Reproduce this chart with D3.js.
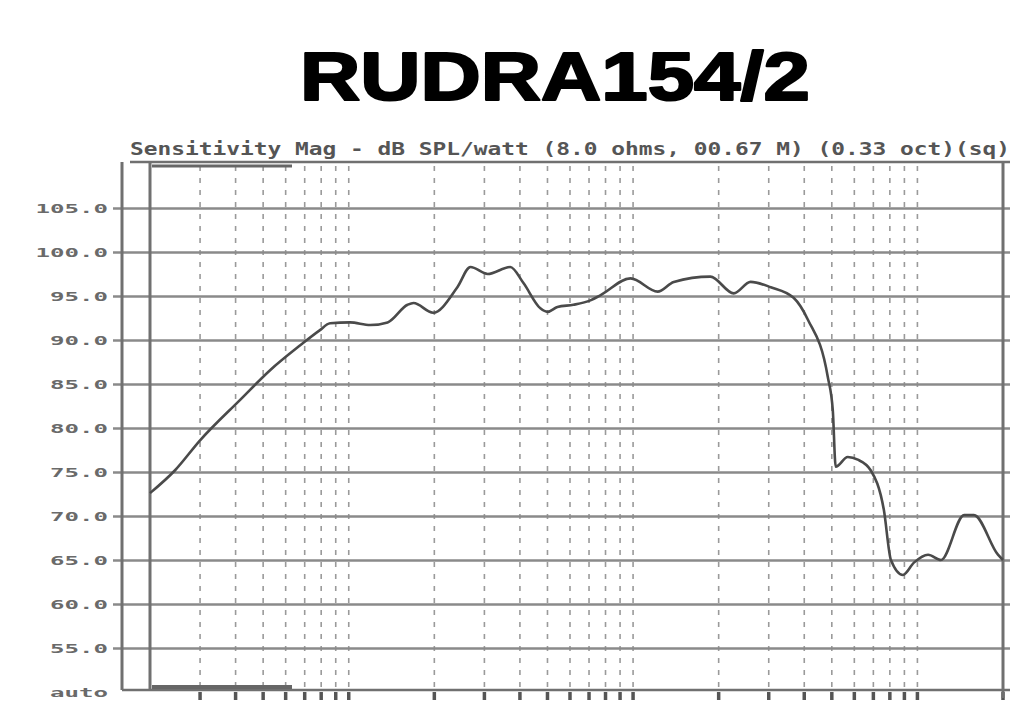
<!DOCTYPE html>
<html>
<head>
<meta charset="utf-8">
<script src="https://cdn.jsdelivr.net/npm/d3@7.9.0/dist/d3.min.js"></script>
<style>
  body { margin: 0; background: #fff; }
  svg { display: block; }
</style>
</head>
<body>
<svg id="chart" width="1020" height="703"></svg>
<script>
// frequency response (Hz, dB SPL)
const freqs = [20, 24.5, 30, 41.5, 53, 67.5, 79, 86, 101, 119, 137, 161, 169, 198, 241,
  268, 308, 370, 411, 472, 500, 542, 617, 708, 769, 980, 1220, 1390, 1870, 2260,
  2590, 3050, 3670, 4120, 4840, 5040, 5160, 5690, 6170, 6850, 7620, 8070, 8890, 9720, 10900,
  12100, 14600, 15800, 19200, 20000];
const spl = [72.6, 75.2, 78.6, 83.2, 86.6, 89.4, 91.1, 91.9, 92.0, 91.7, 92.0, 94.0, 94.2, 93.1, 96.0,
  98.3, 97.5, 98.3, 96.5, 93.6, 93.2, 93.75, 94.0, 94.5, 95.1, 97.0, 95.5, 96.6, 97.2, 95.3,
  96.6, 96.0, 94.8, 92.3, 85.8, 82.0, 75.6, 76.7, 76.4, 75.2, 70.7, 65.0, 63.3, 64.7, 65.6,
  65.0, 70.1, 70.1, 65.6, 65.0];

const yTicks = [105, 100, 95, 90, 85, 80, 75, 70, 65, 60, 55, 50];
const yLabels = ["105.0", "100.0", "95.0", "90.0", "85.0", "80.0", "75.0", "70.0", "65.0", "60.0", "55.0", "auto"];

const title = "RUDRA154/2";
const subtitle = "Sensitivity Mag - dB SPL/watt (8.0 ohms, 00.67 M) (0.33 oct)(sq)";

const svg = d3.select('#chart');

const x = d3.scaleLog().domain([20, 20000]).range([150, 1003]);
const y = d3.scaleLinear().domain([50, 110]).range([692, 164]);

const plotTop = 162, plotBottom = 690, outerLeft = 122, plotRight = 1003;

// big title
svg.append('text')
  .attr('x', 555).attr('y', 100)
  .attr('text-anchor', 'middle')
  .attr('font-family', 'Liberation Sans, Arial, sans-serif')
  .attr('font-weight', 'bold')
  .attr('font-size', 68)
  .attr('textLength', 510)
  .attr('lengthAdjust', 'spacingAndGlyphs')
  .attr('fill', '#000')
  .attr('stroke', '#000')
  .attr('stroke-width', 2.2)
  .attr('stroke-linejoin', 'round')
  .text(title);

// chart header
svg.append('text')
  .attr('x', 130).attr('y', 155)
  .attr('font-family', 'DejaVu Sans Mono, monospace')
  .attr('font-weight', 'bold')
  .attr('font-size', 17)
  .attr('textLength', 880)
  .attr('lengthAdjust', 'spacingAndGlyphs')
  .attr('fill', '#555')
  .text(subtitle);

// vertical grid (1..9 per decade)
let gridFreqs = [];
[10, 100, 1000, 10000].forEach(dec => {
  for (let m = 1; m <= 9; m++) {
    let f = dec * m;
    if (f > 20 && f < 20000) gridFreqs.push(f);
  }
});

svg.append('g')
  .selectAll('line')
  .data(gridFreqs)
  .join('line')
  .attr('x1', d => x(d)).attr('x2', d => x(d))
  .attr('y1', plotTop + 4).attr('y2', plotBottom)
  .attr('stroke', '#9a9a9a')
  .attr('stroke-width', 1.6)
  .attr('stroke-dasharray', '5,7');

// x tick marks under the frame
svg.append('g')
  .selectAll('line')
  .data(gridFreqs.concat([20000]))
  .join('line')
  .attr('x1', d => x(d)).attr('x2', d => x(d))
  .attr('y1', plotBottom + 2).attr('y2', plotBottom + 10)
  .attr('stroke', '#555')
  .attr('stroke-width', 3.5);

// y axis: labels, ticks and the horizontal grid
const yAxis = d3.axisLeft(y)
  .tickValues(yTicks)
  .tickSize(0)
  .tickPadding(0)
  .tickFormat((d, i) => yLabels[i]);

const yg = svg.append('g')
  .attr('transform', `translate(${outerLeft},0)`)
  .call(yAxis);
yg.select('.domain').remove();
yg.selectAll('.tick line')
  .filter(d => d !== 50)
  .attr('x1', -9)
  .attr('x2', 1010 - outerLeft)
  .attr('stroke', '#8a8a8a')
  .attr('stroke-width', 2.6);
yg.selectAll('.tick text')
  .attr('x', -14)
  .attr('dy', '0.35em')
  .attr('font-family', 'DejaVu Sans Mono, monospace')
  .attr('font-weight', 'bold')
  .attr('font-size', 13)
  .attr('fill', '#6a6a6a')
  .attr('textLength', (d, i) => yLabels[i].length * 14.5)
  .attr('lengthAdjust', 'spacingAndGlyphs');

// frame
const frame = svg.append('g').attr('stroke', '#707070').attr('fill', 'none');
frame.append('line').attr('x1', 130).attr('x2', 1010).attr('y1', plotTop).attr('y2', plotTop).attr('stroke-width', 2.5);
frame.append('line').attr('x1', outerLeft).attr('x2', outerLeft).attr('y1', plotTop).attr('y2', plotBottom).attr('stroke-width', 3);
frame.append('line').attr('x1', 150).attr('x2', 150).attr('y1', plotTop).attr('y2', plotBottom).attr('stroke-width', 3);
frame.append('line').attr('x1', plotRight).attr('x2', plotRight).attr('y1', plotTop).attr('y2', plotBottom + 8).attr('stroke-width', 3);
frame.append('line').attr('x1', outerLeft).attr('x2', 1010).attr('y1', plotBottom).attr('y2', plotBottom).attr('stroke-width', 2.5);
// scroll-bar like dark strips
frame.append('line').attr('x1', 152).attr('x2', 292).attr('y1', plotTop + 4).attr('y2', plotTop + 4).attr('stroke-width', 3).attr('stroke', '#666');
frame.append('line').attr('x1', 152).attr('x2', 292).attr('y1', plotBottom - 3).attr('y2', plotBottom - 3).attr('stroke-width', 4).attr('stroke', '#666');

// response curve
const data = freqs.map((f, i) => ({ f: f, v: spl[i] }));
const line = d3.line()
  .x(d => x(d.f))
  .y(d => y(d.v))
  .curve(d3.curveMonotoneX);

svg.append('path')
  .datum(data)
  .attr('d', line)
  .attr('fill', 'none')
  .attr('stroke', '#4a4a4a')
  .attr('stroke-width', 2.6)
  .attr('stroke-linejoin', 'round');
</script>
</body>
</html>
